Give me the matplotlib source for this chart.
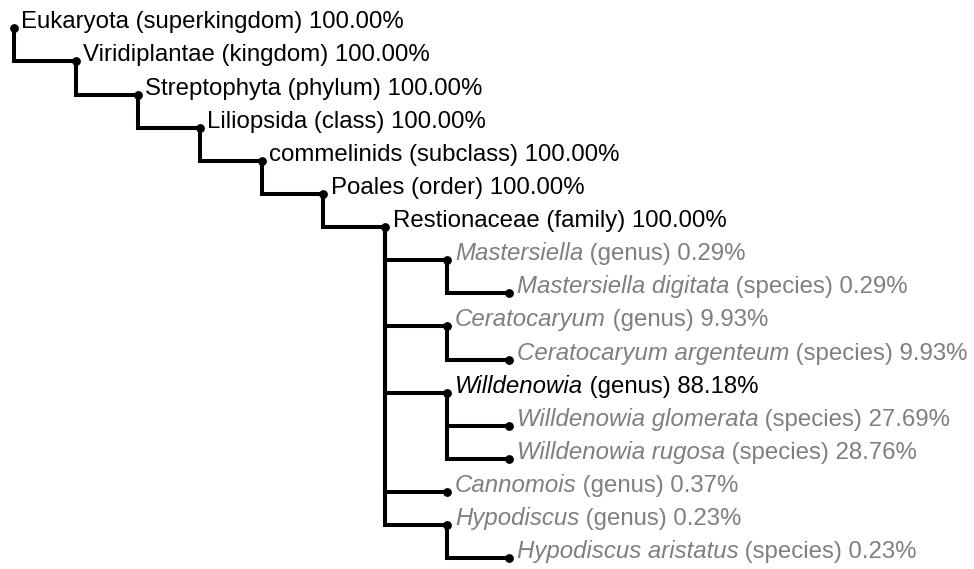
import matplotlib
matplotlib.use("Agg")
import matplotlib.pyplot as plt

plt.rcParams['font.family'] = ['Liberation Sans', 'DejaVu Sans']

# ---- data ----
names = ["Eukaryota", "Viridiplantae", "Streptophyta", "Liliopsida", "commelinids",
         "Poales", "Restionaceae", "Mastersiella", "Mastersiella digitata",
         "Ceratocaryum", "Ceratocaryum argenteum", "Willdenowia",
         "Willdenowia glomerata", "Willdenowia rugosa", "Cannomois",
         "Hypodiscus", "Hypodiscus aristatus"]
ranks = ["superkingdom", "kingdom", "phylum", "class", "subclass", "order", "family",
         "genus", "species", "genus", "species", "genus", "species", "species",
         "genus", "genus", "species"]
percents = [100.00, 100.00, 100.00, 100.00, 100.00, 100.00, 100.00,
            0.29, 0.29, 9.93, 9.93, 88.18, 27.69, 28.76, 0.37, 0.23, 0.23]
parents = [-1, 0, 1, 2, 3, 4, 5, 6, 7, 6, 9, 6, 11, 11, 6, 6, 15]
highlighted = [True, True, True, True, True, True, True,
               False, False, False, False, True, False, False, False, False, False]

# ---- layout ----
depths = []
for i, p in enumerate(parents):
    depths.append(0 if p < 0 else depths[p] + 1)
rows = list(range(len(names)))

W, H = 974, 569
XSTEP, YSTEP, X0, Y0 = 61.9, 33.125, 14.0, 28.3
fig = plt.figure(figsize=(W / 100, H / 100), dpi=100)
ax = fig.add_axes([0, 0, 1, 1])
ax.set_xlim(-X0 / XSTEP, (W - X0) / XSTEP)
ax.set_ylim((H - Y0) / YSTEP, -Y0 / YSTEP)
ax.axis('off')

LW = 2.9
for i, p in enumerate(parents):
    if p < 0:
        continue
    ax.plot([depths[p], depths[p], depths[i]], [rows[p], rows[i], rows[i]],
            color='black', lw=LW, solid_joinstyle='miter', solid_capstyle='butt',
            zorder=1)

ax.scatter(depths, rows, s=40, color='black', zorder=3, linewidths=0)

FS = 17.3
GRAY = '#7f7f7f'
TXT_DX = 7.5 / XSTEP
TXT_DY = 0.0
pending = []
for i in rows:
    col = 'black' if highlighted[i] else GRAY
    x = depths[i] + TXT_DX
    y = rows[i] + TXT_DY
    rest = f"({ranks[i]}) {percents[i]:.2f}%"
    if ranks[i] in ("genus", "species"):
        t = ax.text(x, y, names[i], style='italic', color=col, fontsize=FS,
                    va='baseline', ha='left')
        pending.append((t, y, rest, col))
    else:
        ax.text(x, y, f"{names[i]} {rest}", color=col, fontsize=FS,
                va='baseline', ha='left')

fig.canvas.draw()
renderer = fig.canvas.get_renderer()
for t, y, rest, col in pending:
    bb = t.get_window_extent(renderer)
    xd = ax.transData.inverted().transform((bb.x1, 0))[0]
    ax.text(xd, y, " " + rest, color=col, fontsize=FS, va='baseline', ha='left')

fig.savefig("out.png", dpi=100)
